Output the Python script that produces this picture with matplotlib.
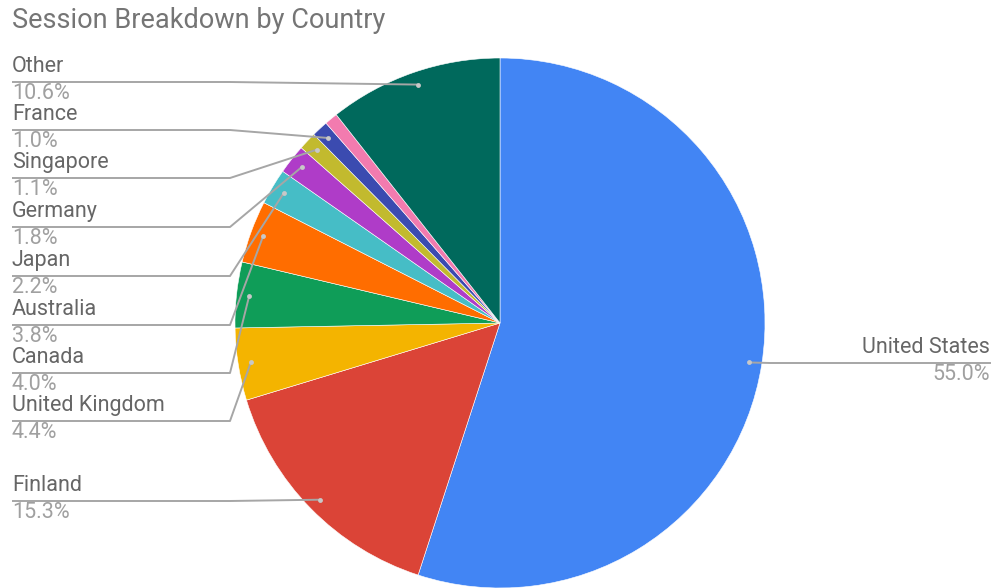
import numpy as np
import matplotlib
matplotlib.use("Agg")
import matplotlib.pyplot as plt

# slices, clockwise from 12 o'clock
countries = ["United States", "Finland", "United Kingdom", "Canada", "Australia",
             "Japan", "Germany", "Singapore", "France", "", "Other"]
shares = [55.0, 15.3, 4.4, 4.0, 3.8, 2.2, 1.8, 1.1, 1.0, 0.8, 10.6]
colors = ["#4285F4", "#DB4437", "#F4B400", "#0F9D58", "#FF6D00", "#46BDC6",
          "#AF3CC8", "#C2BA2E", "#3B4BB0", "#F27BAF", "#00695C"]

# left-hand label rows (pixel y of the leader line), top to bottom
left_order = ["Other", "France", "Singapore", "Germany", "Japan",
              "Australia", "Canada", "United Kingdom", "Finland"]
left_rows = [82, 130, 178, 227, 276, 325, 373, 421, 501]

W, H = 994, 588
plt.rcParams['font.family'] = ['Roboto', 'DejaVu Sans']

fig = plt.figure(figsize=(W / 100, H / 100), dpi=100)
ax = fig.add_axes([0, 0, 1, 1])

cx, cy, R = 500, 323, 265
wedges, _ = ax.pie(shares, colors=colors, startangle=90, counterclock=False,
                   center=(cx, H - cy), radius=R,
                   wedgeprops=dict(edgecolor="white", linewidth=0.4))
ax.set_xlim(0, W)
ax.set_ylim(0, H)
ax.set_aspect("equal")
ax.axis("off")

line_c = "#a6a6a6"
name_c = "#666666"
pct_c = "#a0a0a0"
fs = 15.5


def dot_pos(i):
    w = wedges[i]
    mid = np.deg2rad((w.theta1 + w.theta2) / 2)
    r = 0.952 * R
    return cx + r * np.cos(mid), (H - cy) + r * np.sin(mid)


# left labels
for name, yrow in zip(left_order, left_rows):
    i = countries.index(name)
    dx, dy = dot_pos(i)
    yl = H - yrow
    ax.plot([12, 230, dx], [yl, yl, dy], color=line_c, lw=1.4, zorder=3,
            solid_capstyle="butt")
    ax.plot(dx, dy, "o", ms=3.5, color="#c8c8c8", mec="none", zorder=4)
    ax.text(12, yl + 5, name, fontsize=fs, color=name_c, ha="left", va="bottom")
    ax.text(12, yl - 1, f"{shares[i]:.1f}%", fontsize=fs, color=pct_c,
            ha="left", va="top")

# right label (United States)
i = 0
dx, dy = dot_pos(i)
yl = H - 363
ax.plot([dx, 770, 990], [dy, yl, yl], color=line_c, lw=1.4, zorder=3)
ax.plot(dx, dy, "o", ms=3.5, color="#c8c8c8", mec="none", zorder=4)
ax.text(990, yl + 5, countries[i], fontsize=fs, color=name_c, ha="right", va="bottom")
ax.text(990, yl - 1, f"{shares[i]:.1f}%", fontsize=fs, color=pct_c,
        ha="right", va="top")

fig.text(12 / W, 1 - 7 / H, "Session Breakdown by Country", fontsize=19.5,
         color="#757575", ha="left", va="top")

fig.savefig("out.png", dpi=100)
